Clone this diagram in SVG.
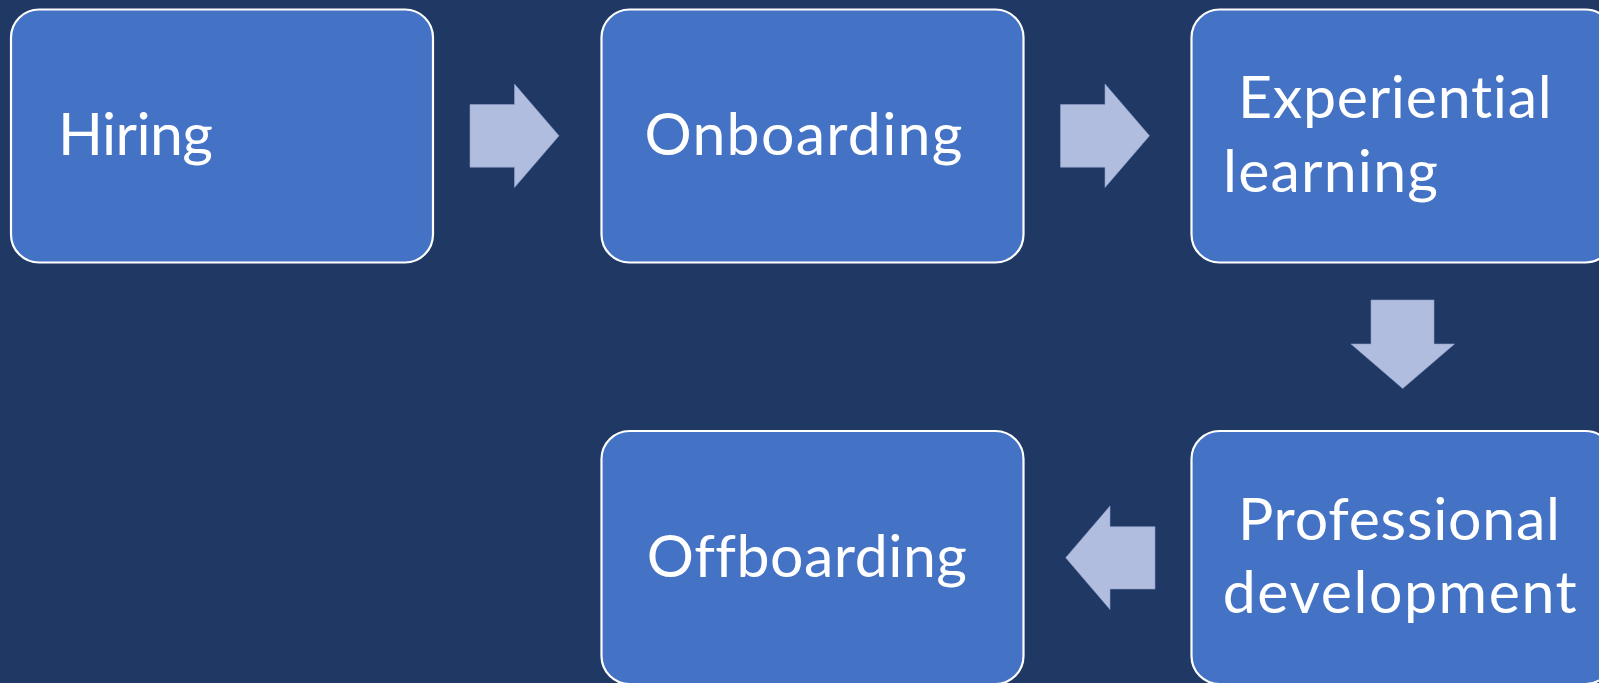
<svg xmlns="http://www.w3.org/2000/svg" width="1599" height="683" viewBox="0 0 1599 683">
<style>
.box{fill:#4472C4;stroke:#FFFFFF;stroke-width:2.2}
.lbl{font-family:Lato,"Open Sans",sans-serif;font-size:59px;fill:#FFFFFF;font-variant-ligatures:none;font-feature-settings:"liga" 0,"dlig" 0}
.arr{fill:#B0BDDF;stroke:#8E9FCB;stroke-width:0.6}
</style>
<rect x="0" y="0" width="1599" height="683" fill="#203864"/>
<g id="connectors">
<polygon class="arr" points="470,104.5 514.5,104.5 514.5,84 559,135.8 514.5,187.5 514.5,167.2 470,167.2"/>
<polygon class="arr" points="1060.5,104.5 1105,104.5 1105,84 1149.5,135.8 1105,187.5 1105,167.2 1060.5,167.2"/>
<polygon class="arr" points="1371,300 1434,300 1434,344 1454.5,344 1402.7,388.5 1351,344 1371,344"/>
<polygon class="arr" points="1155,526.7 1110,526.7 1110,506 1065.7,557.7 1110,609.5 1110,589 1155,589"/>
</g>
<g id="hiring">
<rect class="box" x="11" y="9.5" width="422" height="253" rx="28"/>
<text class="lbl" x="58" y="155" textLength="155" lengthAdjust="spacing">Hiring</text>
</g>
<g id="onboarding">
<rect class="box" x="601.5" y="9.5" width="422" height="253" rx="28"/>
<text class="lbl" x="644.5" y="155" textLength="318" lengthAdjust="spacing">Onboarding</text>
</g>
<g id="experiential">
<rect class="box" x="1191.5" y="9.5" width="422" height="253" rx="28"/>
<text class="lbl" x="1238" y="118" textLength="313.7" lengthAdjust="spacing">Experiential</text>
<text class="lbl" x="1223" y="192" textLength="215" lengthAdjust="spacing">learning</text>
</g>
<g id="professional">
<rect class="box" x="1191.5" y="431" width="422" height="253" rx="28"/>
<text class="lbl" x="1238" y="540" textLength="322" lengthAdjust="spacing">Professional</text>
<text class="lbl" x="1222.7" y="613" textLength="354" lengthAdjust="spacing">development</text>
</g>
<g id="offboarding">
<rect class="box" x="601.5" y="431" width="422" height="253" rx="28"/>
<text class="lbl" x="646.7" y="577" textLength="320.3" lengthAdjust="spacing">Offboarding</text>
</g>
</svg>
